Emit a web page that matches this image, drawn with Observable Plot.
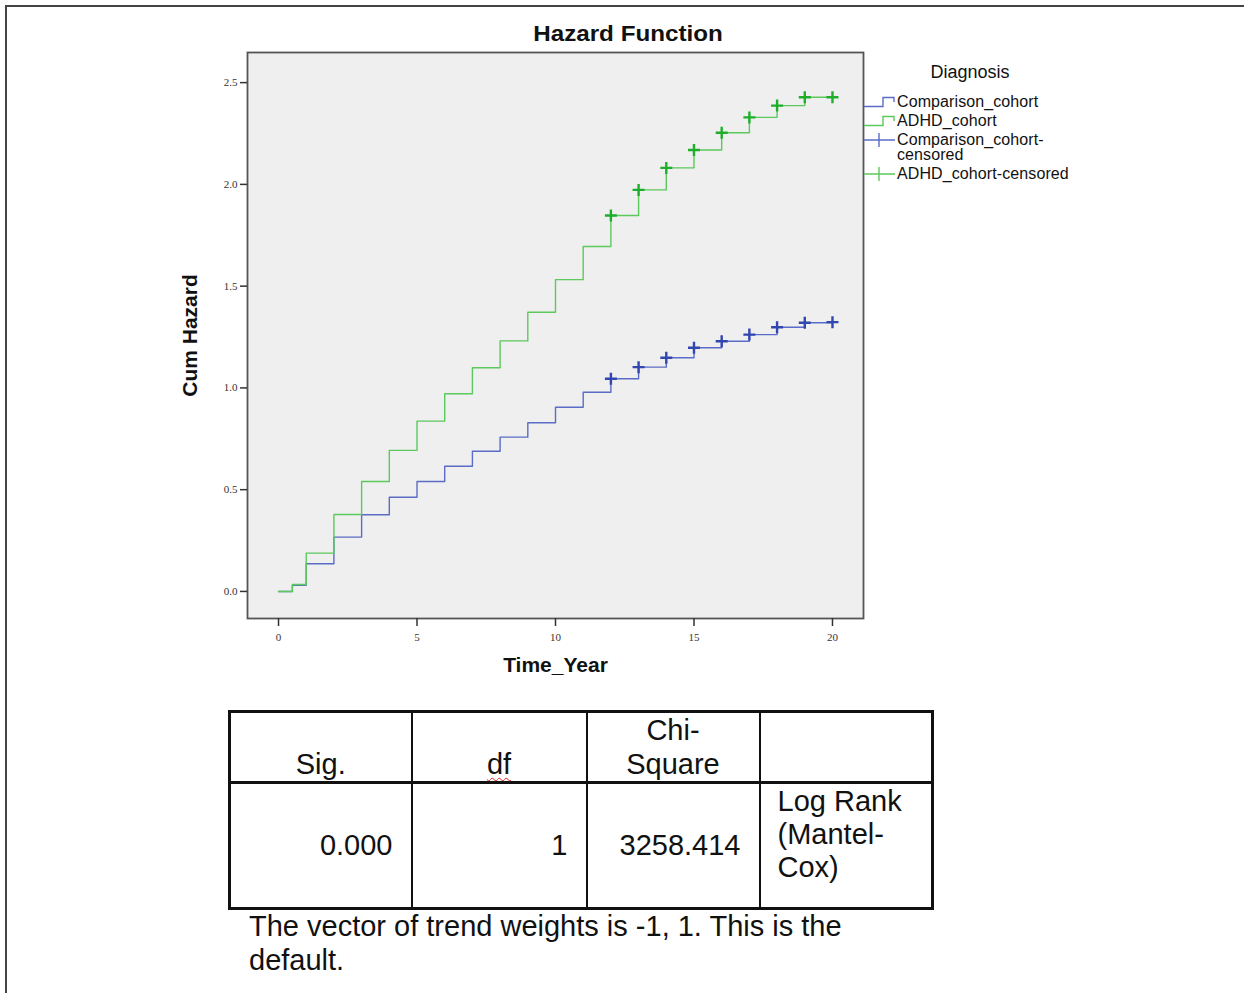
<!DOCTYPE html>
<html>
<head>
<meta charset="utf-8">
<script src="https://cdn.jsdelivr.net/npm/d3@7"></script>
<script src="https://cdn.jsdelivr.net/npm/@observablehq/plot@0.6"></script>
<style>
  html, body { margin: 0; padding: 0; background: #fff; }
  body { width: 1244px; height: 993px; position: relative; overflow: hidden; font-family: "Liberation Sans", Arial, sans-serif; color: #111; }
  #frameTop { position: absolute; left: 5px; top: 5px; width: 1239px; height: 0; border-top: 2px solid #444; }
  #frameLeft { position: absolute; left: 5px; top: 5px; width: 0; height: 988px; border-left: 2px solid #444; }
  #chart { position: absolute; left: 0; top: 0; }
  #title { position: absolute; left: 478px; width: 300px; top: 21px; text-align: center; font-weight: bold; font-size: 22px; transform: scaleX(1.1); }
  #legend { position: absolute; left: 864px; top: 61px; font-size: 16px; }
  #legend .ttl { position: absolute; left: 36px; width: 140px; top: 1px; text-align: center; font-size: 18px; }
  #legend .item { position: absolute; left: 0; white-space: nowrap; }
  #legend .item svg { position: absolute; left: 0; }
  #legend .item span { position: absolute; left: 33px; line-height: 15px; letter-spacing: 0.1px; }
  #tbl { position: absolute; left: 228px; top: 710px; border-collapse: collapse; table-layout: fixed; width: 703px; font-size: 29px; }
  #tbl td { padding: 0; border: 2px solid #111; overflow: visible; white-space: nowrap; }
  #tbl tr.h td { height: 67px; vertical-align: bottom; text-align: center; line-height: 34px; border-bottom: 3px solid #111; }
  #tbl tr.b td { height: 122px; }
  .wavy { text-decoration: underline wavy #d22; text-decoration-thickness: 1px; text-underline-offset: 3px; }
  #note { position: absolute; left: 249px; top: 909px; font-size: 29px; line-height: 34px; width: 640px; }
</style>
</head>
<body>
<div id="frameTop"></div>
<div id="frameLeft"></div>
<div id="chart"></div>
<div id="title">Hazard Function</div>
<div id="legend"></div>
<div id="tblwrap"></div>
<script>
// ---- data ----
const times = [0, 0.5, 1, 2, 3, 4, 5, 6, 7, 8, 9, 10, 11, 12, 13, 14, 15, 16, 17, 18, 19, 20];
const comparisonHazard = [0, 0.03, 0.136, 0.267, 0.377, 0.463, 0.540, 0.615, 0.689, 0.758, 0.829, 0.905, 0.979, 1.045, 1.102, 1.148, 1.197, 1.229, 1.262, 1.298, 1.320, 1.323];
const adhdHazard = [0, 0.034, 0.188, 0.378, 0.540, 0.693, 0.837, 0.971, 1.099, 1.231, 1.372, 1.532, 1.695, 1.847, 1.973, 2.081, 2.169, 2.254, 2.329, 2.387, 2.428, 2.428];
const censoredTimes = [12, 13, 14, 15, 16, 17, 18, 19, 20];
const seriesNames = ["Comparison_cohort", "ADHD_cohort"];
const legendLabels = ["Comparison_cohort", "ADHD_cohort", "Comparison_cohort-\ncensored", "ADHD_cohort-censored"];
const xTicks = [0, 5, 10, 15, 20];
const yTicks = [0, 0.5, 1.0, 1.5, 2.0, 2.5];
const tableHeader = ["Sig.", "df", "Chi-\nSquare", ""];
const tableRow = ["0.000", "1", "3258.414", "Log Rank\n(Mantel-\nCox)"];
const footnote = "The vector of trend weights is -1, 1. This is the default.";

const lineColors = {"Comparison_cohort": "#5b6cc6", "ADHD_cohort": "#5cc95c"};
const markColors = {"Comparison_cohort": "#3246b0", "ADHD_cohort": "#1fae2c"};

const rows = [];
seriesNames.forEach((s, k) => {
  const vals = k === 0 ? comparisonHazard : adhdHazard;
  times.forEach((t, i) => rows.push({series: s, time: t, hazard: vals[i]}));
});
const censored = rows.filter(d => censoredTimes.includes(d.time));

const plusSymbol = {
  draw(context, size) {
    const r = Math.sqrt(size / Math.PI);
    context.moveTo(-r, 0); context.lineTo(r, 0);
    context.moveTo(0, -r); context.lineTo(0, r);
  }
};

const chart = Plot.plot({
  width: 1244,
  height: 700,
  marginLeft: 247,
  marginRight: 381,
  marginTop: 52,
  marginBottom: 82,
  style: {background: "transparent", fontFamily: "'Liberation Serif', 'DejaVu Serif', serif", color: "#333"},
  x: {domain: [-1.12, 21.12]},
  y: {domain: [-0.133, 2.648]},
  marks: [
    Plot.frame({fill: "#efefef", stroke: "#555", strokeWidth: 1.8}),
    Plot.axisX({ticks: xTicks, tickSize: 8, tickPadding: 7, fontSize: 11, label: null, stroke: "#333", strokeWidth: 1.5}),
    Plot.axisY({ticks: yTicks, tickSize: 7, tickPadding: 3, fontSize: 11, label: null, tickFormat: d3.format(".1f"), stroke: "#333", strokeWidth: 1.5}),
    Plot.line(rows, {x: "time", y: "hazard", z: "series", stroke: d => lineColors[d.series], curve: "step-after", strokeWidth: 1.4}),
    Plot.dot(censored, {x: "time", y: "hazard", symbol: plusSymbol, r: 6, stroke: d => markColors[d.series], strokeWidth: 2.4, fill: "none"}),
    Plot.text(["Time_Year"], {frameAnchor: "bottom", textAnchor: "middle", text: d => d, dy: 53, fontWeight: "bold", fontSize: 21, fontFamily: "'Liberation Sans', Arial, sans-serif", fill: "#111"}),
    Plot.text(["Cum Hazard"], {frameAnchor: "left", textAnchor: "middle", text: d => d, dx: -57, rotate: -90, fontWeight: "bold", fontSize: 21, fontFamily: "'Liberation Sans', Arial, sans-serif", fill: "#111"})
  ]
});
document.getElementById("chart").appendChild(chart);

// ---- legend ----
const legend = document.getElementById("legend");
legend.innerHTML = '<div class="ttl">Diagnosis</div>';
const legendTops = [33, 52, 71, 105];
const legendColorKeys = ["Comparison_cohort", "ADHD_cohort", "Comparison_cohort", "ADHD_cohort"];
legendLabels.forEach((lab, i) => {
  const c = lineColors[legendColorKeys[i]];
  const it = document.createElement("div");
  it.className = "item";
  it.style.top = legendTops[i] + "px";
  let icon;
  if (i < 2) {
    icon = `<svg width="32" height="16" style="top:0"><path d="M0,12.5H19V3.5H30V8" fill="none" stroke="${c}" stroke-width="1.4"/></svg>`;
  } else {
    icon = `<svg width="32" height="20" style="top:-1px"><path d="M0,9H31M15,2V16" fill="none" stroke="${c}" stroke-width="1.4"/></svg>`;
  }
  it.innerHTML = icon + `<span>${lab.replace("\n", "<br>")}</span>`;
  legend.appendChild(it);
});

// ---- table ----
const tbl = document.createElement("table");
tbl.id = "tbl";
const colW = [182, 175, 173, 173];
const cg = document.createElement("colgroup");
colW.forEach(w => { const c = document.createElement("col"); c.style.width = w + "px"; cg.appendChild(c); });
tbl.appendChild(cg);
const hr = document.createElement("tr"); hr.className = "h";
tableHeader.forEach((h, i) => {
  const td = document.createElement("td");
  if (h === "df") td.innerHTML = '<span class="wavy">df</span>';
  else td.innerHTML = h.replace("\n", "<br>");
  if (i === 0) td.style.borderLeftWidth = "3px";
  if (i === 3) td.style.borderRightWidth = "3px";
  td.style.borderTopWidth = "3px";
  hr.appendChild(td);
});
tbl.appendChild(hr);
const br = document.createElement("tr"); br.className = "b";
tableRow.forEach((v, i) => {
  const td = document.createElement("td");
  td.innerHTML = v.replace(/\n/g, "<br>");
  if (i < 3) { td.style.textAlign = "right"; td.style.verticalAlign = "middle"; td.style.paddingRight = "18px"; }
  else { td.style.textAlign = "left"; td.style.verticalAlign = "top"; td.style.paddingLeft = "17px"; td.style.lineHeight = "33px"; td.style.paddingTop = "1px"; }
  if (i === 0) td.style.borderLeftWidth = "3px";
  if (i === 3) td.style.borderRightWidth = "3px";
  td.style.borderBottomWidth = "3px";
  br.appendChild(td);
});
tbl.appendChild(br);
document.getElementById("tblwrap").appendChild(tbl);

const note = document.createElement("div");
note.id = "note";
note.textContent = footnote;
document.body.appendChild(note);
</script>
</body>
</html>
